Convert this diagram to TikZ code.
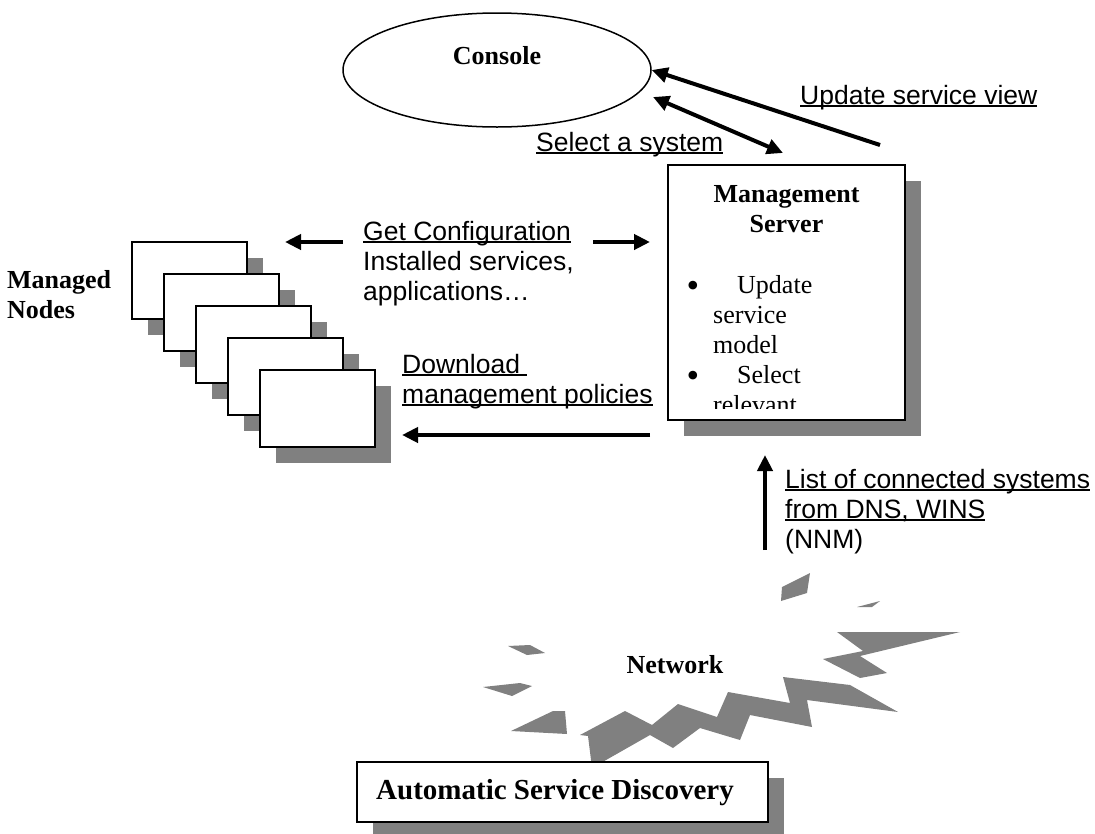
\documentclass[tikz,border=0pt]{standalone}
\usepackage{fontspec}
\setmainfont{Liberation Serif}
\setsansfont{Liberation Sans}
\usetikzlibrary{arrows.meta,shapes.geometric}
\definecolor{shadowgray}{HTML}{808080}
% word-processor style underline: a rule just under the baseline
\newcommand\wul[1]{\setbox0\hbox{#1}\rlap{\rule[-3.2pt]{\wd0}{1.8pt}}\box0}
\begin{document}
\begin{tikzpicture}[x=1pt,y=-1pt,
  lbl/.style={inner sep=0, anchor=base west, font=\sffamily\fontsize{26.5}{30}\selectfont},
  ttl/.style={inner sep=0, anchor=base, font=\bfseries\fontsize{26}{30}\selectfont},
  body/.style={inner sep=0, anchor=base west, font=\fontsize{26}{30}\selectfont},
  bulletmark/.style={inner sep=0, anchor=base, font=\fontsize{36}{36}\selectfont},
  arr/.style={line width=4pt, -{Triangle[length=16pt,width=15pt]}},
  dblarr/.style={line width=4pt, {Triangle[length=16pt,width=15pt]}-{Triangle[length=16pt,width=15pt]}},
  card/.style={draw, line width=2pt, fill=white, inner sep=0, outer sep=0},
  burst/.style={fill=shadowgray, draw=none}]
\useasboundingbox (0,0) rectangle (1095,833);
\clip (0,0) rectangle (1095,833);

% ---- console ----
\node[draw, ellipse, line width=1.5pt, minimum width=308pt, minimum height=114pt, inner sep=0] (console) at (497,70) {};
\node[ttl] (consolelbl) at (497,64) {Console};

% ---- management server ----
\fill[shadowgray] (684,181) rectangle (921,436);
\node[card, minimum width=237pt, minimum height=255pt] (server) at (786.5,292.5) {};
\begin{scope}
  \clip (670,167) rectangle (903,408);
  \node[ttl] (srvA) at (786.5,202) {Management};
  \node[ttl] (srvB) at (786.5,232) {Server};
  \node[bulletmark] (bul1) at (693,297) {\textbullet};
  \node[body] (srv1) at (737,293) {Update};
  \node[body] (srv2) at (713,323) {service};
  \node[body] (srv3) at (713,353) {model};
  \node[bulletmark] (bul2) at (693,387) {\textbullet};
  \node[body] (srv4) at (737,383) {Select};
  \node[body] (srv5) at (713,413) {relevant};
\end{scope}

% ---- managed nodes stack ----
\foreach \i in {0,...,4} {
  \fill[shadowgray] ({148+32*\i},{258+32*\i}) rectangle ({263+32*\i},{335+32*\i});
  \node[card, minimum width=115pt, minimum height=77pt] (n\i) at ({189.5+32*\i},{280.5+32*\i}) {};
}
\node[ttl, anchor=base west] (mnA) at (7,288) {Managed};
\node[ttl, anchor=base west] (mnB) at (7,318) {Nodes};

% ---- network burst ----
\fill[burst] (508,646) -- (530,645) -- (545,653) -- (527,655) -- cycle;
\fill[burst] (483,687) -- (520,683) -- (532,686) -- (512,696) -- cycle;
\fill[burst] (511,731) -- (553,711) -- (565,711) -- (567,734) -- cycle;
\fill[burst] (782,587) -- (810,573) -- (807,593) -- (781,601) -- cycle;
\fill[burst] (857,607) -- (880,601) -- (872,607) -- cycle;
\fill[burst] (837,632) -- (960,632) -- (860,656) -- (887,673) -- (860,678) -- (823,659) -- (863,651) -- cycle;
\fill[burst] (580,735) -- (625,711) -- (652,725) -- (678,704) -- (717,717) -- (728,692)
  -- (790,703) -- (783,677) -- (850,685) -- (898,712) -- (807,700) -- (812,727)
  -- (750,715) -- (740,740) -- (700,728) -- (673,748) -- (650,735) -- (592,768)
  -- (588,736) -- cycle;
\node[ttl] (netlbl) at (675,673) {Network};

% ---- automatic service discovery ----
\fill[shadowgray] (373,778) rectangle (784,838);
\node[card, minimum width=411pt, minimum height=60pt] (asd) at (562.5,792) {};
\node[ttl, font=\bfseries\fontsize{29}{33}\selectfont] (asdlbl) at (555,799) {Automatic Service Discovery};

% ---- connectors ----
\coordinate (updTail) at (880,145);
\draw[arr] (updTail) -- (console.east);
\coordinate (selA) at (653,97);
\coordinate (selB) at (783,153);
\draw[dblarr] (selA) -- (selB);
\coordinate (gcLtail) at (343,242);
\coordinate (gcLtip) at (285,242);
\draw[arr] (gcLtail) -- (gcLtip);
\coordinate (gcRtail) at (593,242);
\coordinate (gcRtip) at (650,242);
\draw[arr] (gcRtail) -- (gcRtip);
\coordinate (dlTail) at (650,435);
\coordinate (dlTip) at (402,435);
\draw[arr] (dlTail) -- (dlTip);
\coordinate (lsTail) at (765,550);
\coordinate (lsTip) at (765,455);
\draw[arr] (lsTail) -- (lsTip);

% ---- connector labels ----
\node[lbl] (updlbl) at (800,104) {\wul{Update service view}};
\node[lbl] (sellbl) at (536,151) {\wul{Select a system}};
\node[lbl] (gc1) at (363,240) {\wul{Get Configuration}};
\node[lbl] (gc2) at (363,270) {Installed services,};
\node[lbl] (gc3) at (363,300) {applications…};
\node[lbl] (dl1) at (402,373) {\wul{Download\ }};
\node[lbl] (dl2) at (402,403) {\wul{management policies}};
\node[lbl] (ls1) at (785,488) {\wul{List of connected systems}};
\node[lbl] (ls2) at (785,518) {\wul{from DNS, WINS}};
\node[lbl] (ls3) at (785,548) {(NNM)};
\end{tikzpicture}
\end{document}
